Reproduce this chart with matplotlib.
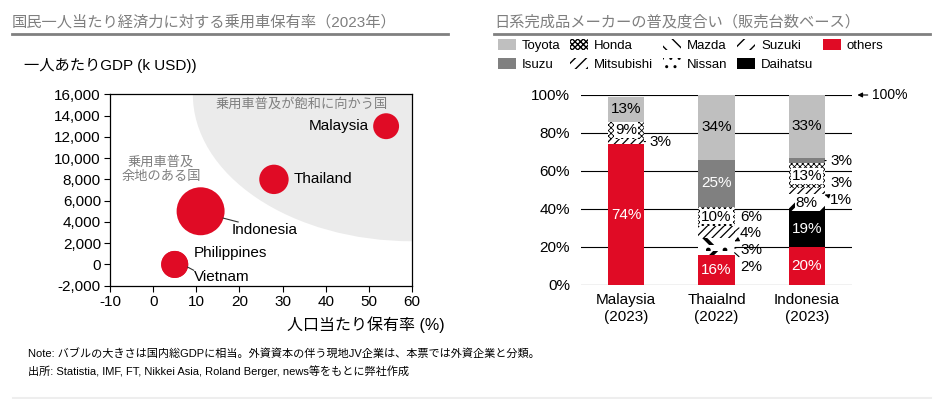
import matplotlib
matplotlib.use('Agg')
import matplotlib.pyplot as plt
import numpy as np
from matplotlib.patches import Ellipse, Patch
from matplotlib.lines import Line2D
from matplotlib.ticker import FuncFormatter

plt.rcParams['font.family'] = ['Liberation Sans', 'Noto Sans CJK JP']
plt.rcParams['axes.unicode_minus'] = False

RED = '#E00B25'
GRAY_TXT = '#7F7F7F'

# bubble chart
bub_names = ['Malaysia', 'Thailand', 'Indonesia', 'Philippines', 'Vietnam']
own_rate = [54, 28, 11, 5, 5]            # 人口当たり保有率 (%)
gdp_pc = [13000, 8000, 5000, 0, 0]       # 一人あたりGDP
gdp_total = [400, 515, 1371, 437, 430]   # bubble size (国内総GDP)

# stacked bars (bottom -> top)
bar_cats = ['Malaysia\n(2023)', 'Thaialnd\n(2022)', 'Indonesia\n(2023)']
others = [74, 16, 20]
daihatsu = [0, 0, 19]
suzuki = [0, 2, 8]
nissan = [0, 3, 1]
mazda = [0, 4, 0]
mitsubishi = [3, 6, 3]
honda = [9, 10, 13]
isuzu = [0, 25, 3]
toyota = [13, 34, 33]

series = [('others', others), ('Daihatsu', daihatsu), ('Suzuki', suzuki),
          ('Nissan', nissan), ('Mazda', mazda), ('Mitsubishi', mitsubishi),
          ('Honda', honda), ('Isuzu', isuzu), ('Toyota', toyota)]

# face, hatch, hatch lw, label colour, label box, legend hatch
styles = {
    'Toyota': ('#BFBFBF', None, 1, 'black', False, None),
    'Isuzu': ('#808080', None, 1, 'white', False, None),
    'Honda': ('white', 'xxxxxx', 0.6, 'black', True, 'xxxxxx'),
    'Mitsubishi': ('white', '////', 0.9, 'black', True, '///'),
    'Mazda': ('white', '\\', 2.6, 'black', True, '\\\\'),
    'Nissan': ('white', '.', 1, 'black', True, '..'),
    'Suzuki': ('white', '/', 2.6, 'black', True, '//'),
    'Daihatsu': ('black', None, 1, 'white', False, None),
    'others': (RED, None, 1, 'white', False, None),
}

# labels placed beside the bars: (bar, maker) -> (text y, arrow style)
outside = {
    (0, 'Mitsubishi'): (75.3, '-'),
    (1, 'Mitsubishi'): (35.7, '-'),
    (1, 'Mazda'): (27.3, '-|>'),
    (1, 'Nissan'): (18.6, '-'),
    (1, 'Suzuki'): (9.3, '-'),
    (2, 'Isuzu'): (65.2, '-'),
    (2, 'Mitsubishi'): (53.6, None),
    (2, 'Nissan'): (44.6, '-|>'),
}

fig = plt.figure(figsize=(9.44, 3.99), dpi=100)
W, H = 944, 399


def fx(px):
    return px / W


def fy(py):
    return 1 - py / H


# titles
fig.text(fx(12), fy(22), '国民一人当たり経済力に対する乗用車保有率（2023年）',
         fontsize=11, color=GRAY_TXT, va='center')
fig.add_artist(Line2D([fx(12), fx(448)], [fy(34), fy(34)], color='#808080', lw=2,
                      transform=fig.transFigure))
fig.text(fx(494), fy(22), '日系完成品メーカーの普及度合い（販売台数ベース）',
         fontsize=11, color=GRAY_TXT, va='center')
fig.add_artist(Line2D([fx(494), fx(930)], [fy(34), fy(34)], color='#808080', lw=2,
                      transform=fig.transFigure))

# ---- left: bubble chart ----
ax1 = fig.add_axes([fx(110), fy(285.7), fx(302), 191.4 / H])
ax1.add_patch(Ellipse((60, 16000), width=101.6, height=27640,
                      facecolor='#EBEBEB', edgecolor='none', zorder=0))
ax1.scatter(own_rate, gdp_pc, s=np.array(gdp_total) * 0.87, c=RED,
            edgecolors='none', zorder=3)
ax1.set_xlim(-10, 60)
ax1.set_ylim(-2000, 16000)
ax1.set_xticks(range(-10, 61, 10))
ax1.set_yticks(range(-2000, 16001, 2000))
ax1.yaxis.set_major_formatter(FuncFormatter(lambda v, p: f'{v:,.0f}'))
ax1.tick_params(direction='out', length=4, width=0.8, labelsize=11, pad=2.5)
for sp in ax1.spines.values():
    sp.set_linewidth(0.9)

ax1.text(50.1, 13000, 'Malaysia', fontsize=11, ha='right', va='center', zorder=4)
ax1.text(32.5, 8000, 'Thailand', fontsize=11, ha='left', va='center', zorder=4)
ax1.text(18.1, 3230, 'Indonesia', fontsize=11, ha='left', va='center', zorder=4)
ax1.plot([16.2, 19.7], [4360, 3990], color='#333333', lw=0.8, zorder=4)
ax1.text(9.3, 1070, 'Philippines', fontsize=11, ha='left', va='center', zorder=4)
ax1.text(9.5, -1180, 'Vietnam', fontsize=11, ha='left', va='center', zorder=4)
ax1.plot([8.0, 9.4], [-250, -550], color='#333333', lw=0.8, zorder=4)
ax1.text(34.5, 15080, '乗用車普及が飽和に向かう国', fontsize=9.5, color=GRAY_TXT,
         ha='center', va='center')
ax1.text(1.8, 8920, '乗用車普及\n余地のある国', fontsize=9.5, color=GRAY_TXT,
         ha='center', va='center', linespacing=1.3)

fig.text(fx(24), fy(65), '一人あたりGDP (k USD))', fontsize=11, va='center')
fig.text(fx(445), fy(325), '人口当たり保有率 (%)', fontsize=11.5, ha='right', va='center')

# ---- right: stacked bars ----
ax2 = fig.add_axes([fx(581), fy(285), fx(271), 190 / H])
x = np.arange(len(bar_cats))
bottom = np.zeros(len(bar_cats))
handles = {}
for name, vals in series:
    face, hatch, hlw, tcol, boxed, leg_hatch = styles[name]
    vals = np.array(vals, dtype=float)
    bars = ax2.bar(x, vals, 0.4, bottom=bottom, color=face, edgecolor='black',
                   hatch=hatch, linewidth=0, zorder=2)
    for b in bars:
        try:
            b.set_hatch_linewidth(hlw)
        except AttributeError:
            pass
    hp = Patch(facecolor=face, edgecolor='black', hatch=leg_hatch, linewidth=0)
    try:
        hp.set_hatch_linewidth(hlw)
    except AttributeError:
        pass
    handles[name] = hp
    for i, v in enumerate(vals):
        if v <= 0:
            continue
        mid = bottom[i] + v / 2
        lab = f'{v:.0f}%'
        if (i, name) in outside:
            ty, style = outside[(i, name)]
            if style is None:
                ax2.text(i + 0.26, ty, lab, fontsize=11, ha='left', va='center')
            else:
                ax2.annotate(lab, xy=(i + 0.2, mid), xytext=(i + 0.26, ty),
                             fontsize=11, ha='left', va='center',
                             arrowprops=dict(arrowstyle=style, lw=0.8, color='black',
                                             shrinkA=1, shrinkB=0,
                                             mutation_scale=6))
        else:
            bbox = dict(facecolor='white', edgecolor='none', pad=0.6) if boxed else None
            ax2.text(i, mid, lab, fontsize=11, color=tcol, ha='center', va='center',
                     bbox=bbox, zorder=3)
    bottom += vals

ax2.set_xlim(-0.5, 2.5)
ax2.set_ylim(0, 100)
ax2.set_yticks(range(0, 101, 20))
ax2.yaxis.set_major_formatter(FuncFormatter(lambda v, p: f'{v:.0f}%'))
ax2.set_xticks(x)
ax2.set_xticklabels(bar_cats, linespacing=1.25)
ax2.yaxis.grid(True, color='black', lw=0.8)
ax2.set_axisbelow(True)
for sp in ax2.spines.values():
    sp.set_visible(False)
ax2.tick_params(length=0, labelsize=11)
ax2.tick_params(axis='y', pad=8)
ax2.tick_params(axis='x', pad=6)
ax2.annotate('100%', xy=(2.56, 100), xytext=(2.72, 100), fontsize=10,
             ha='left', va='center', annotation_clip=False,
             arrowprops=dict(arrowstyle='-|>', lw=0.8, color='black',
                             shrinkA=1, shrinkB=0, mutation_scale=7))

leg_order = ['Toyota', 'Isuzu', 'Honda', 'Mitsubishi', 'Mazda', 'Nissan',
             'Suzuki', 'Daihatsu', 'others']
fig.legend([handles[n] for n in leg_order], leg_order, ncol=5, loc='upper left',
           bbox_to_anchor=(fx(498), fy(39)), frameon=False, fontsize=9.5,
           handlelength=1.35, handleheight=0.95, handletextpad=0.45,
           columnspacing=0.75, labelspacing=0.4, borderpad=0, borderaxespad=0)

# notes
fig.text(fx(28), fy(353), 'Note: バブルの大きさは国内総GDPに相当。外資資本の伴う現地JV企業は、本票では外資企業と分類。',
         fontsize=8, va='center')
fig.text(fx(28), fy(371), '出所: Statistia, IMF, FT, Nikkei Asia, Roland Berger, news等をもとに弊社作成',
         fontsize=8, va='center')
fig.add_artist(Line2D([fx(13), fx(931)], [fy(397.5), fy(397.5)], color='#EEEEEE',
                      lw=1.5, transform=fig.transFigure))

fig.savefig('out.png', dpi=100)
